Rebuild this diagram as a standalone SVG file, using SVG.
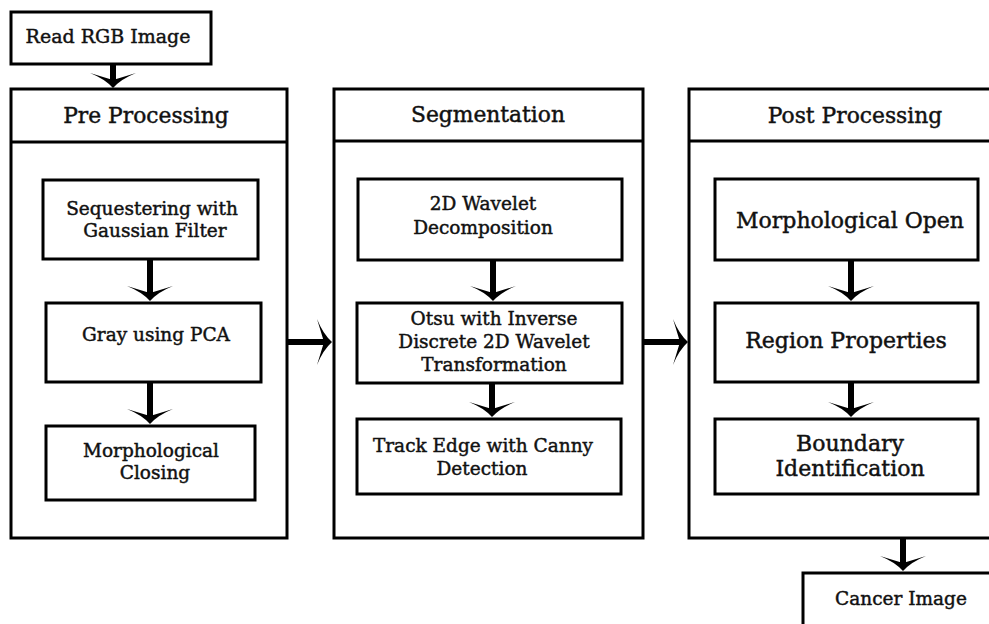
<svg xmlns="http://www.w3.org/2000/svg" xmlns:xlink="http://www.w3.org/1999/xlink" width="989" height="624" viewBox="0 0 989 624">
<style>
.box{fill:#fff;stroke:#000;stroke-width:3}
.t{font-family:"DejaVu Serif","Liberation Serif",serif;fill:#111;stroke:#111;stroke-width:0.45;text-anchor:middle}
.h{font-size:21.8px}
.s{font-size:18.5px}
.r{font-size:19px}
.p{font-size:22px}
.shaft{stroke:#000;stroke-width:6;fill:none}
</style>
<defs>
<path id="ahd" d="M0,0 Q-8,-9 -23,-15 Q-10,-11 0,-8 Q10,-11 23,-15 Q8,-9 0,0 Z" fill="#000"/>
</defs>
<rect width="989" height="624" fill="#fff"/>

<g id="read">
<rect class="box" x="11" y="12" width="200" height="52"/>
<text class="t r" x="108" y="43">Read RGB Image</text>
</g>

<g id="pre">
<rect class="box" x="11" y="89" width="276" height="449"/>
<line x1="11" y1="142" x2="287" y2="142" stroke="#000" stroke-width="3"/>
<text class="t h" x="146" y="123">Pre Processing</text>
</g>
<g id="seq">
<rect class="box" x="43" y="180" width="215" height="79"/>
<text class="t s" x="152" y="215">Sequestering with</text>
<text class="t s" x="155" y="237">Gaussian Filter</text>
</g>
<g id="gray">
<rect class="box" x="46" y="303" width="215" height="79"/>
<text class="t s" x="156" y="341">Gray using PCA</text>
</g>
<g id="closing">
<rect class="box" x="46" y="426" width="209" height="74"/>
<text class="t s" x="151" y="457">Morphological</text>
<text class="t s" x="155" y="479">Closing</text>
</g>

<g id="seg">
<rect class="box" x="334" y="89" width="309" height="449"/>
<line x1="334" y1="141" x2="643" y2="141" stroke="#000" stroke-width="3"/>
<text class="t h" x="488" y="122">Segmentation</text>
</g>
<g id="wavelet">
<rect class="box" x="358" y="179" width="264" height="81"/>
<text class="t s" x="483" y="210">2D Wavelet</text>
<text class="t s" x="483" y="234">Decomposition</text>
</g>
<g id="otsu">
<rect class="box" x="357" y="303" width="265" height="80"/>
<text class="t s" x="494" y="325">Otsu with Inverse</text>
<text class="t s" x="494" y="348">Discrete 2D Wavelet</text>
<text class="t s" x="494" y="371">Transformation</text>
</g>
<g id="track">
<rect class="box" x="357" y="419" width="264" height="75"/>
<text class="t s" x="483" y="452">Track Edge with Canny</text>
<text class="t s" x="482" y="475">Detection</text>
</g>

<g id="post">
<rect class="box" x="689" y="89" width="310" height="449"/>
<line x1="689" y1="141" x2="999" y2="141" stroke="#000" stroke-width="3"/>
<text class="t h" x="855" y="123">Post Processing</text>
</g>
<g id="open">
<rect class="box" x="715" y="179" width="263" height="81"/>
<text class="t p" x="850" y="228">Morphological Open</text>
</g>
<g id="region">
<rect class="box" x="715" y="303" width="263" height="79"/>
<text class="t p" x="846" y="348">Region Properties</text>
</g>
<g id="boundary">
<rect class="box" x="715" y="419" width="263" height="75"/>
<text class="t p" x="850" y="451">Boundary</text>
<text class="t p" x="850" y="476">Identification</text>
</g>

<g id="cancer">
<rect class="box" x="803" y="573" width="200" height="70"/>
<text class="t s" x="901" y="605">Cancer Image</text>
</g>

<g id="connectors">
<line class="shaft" x1="113" y1="64" x2="113" y2="84"/>
<use xlink:href="#ahd" transform="translate(113,88)"/>
<line class="shaft" x1="150" y1="259" x2="150" y2="297"/>
<use xlink:href="#ahd" transform="translate(150,301)"/>
<line class="shaft" x1="150" y1="382" x2="150" y2="420"/>
<use xlink:href="#ahd" transform="translate(150,424)"/>
<line class="shaft" x1="493" y1="260" x2="493" y2="297"/>
<use xlink:href="#ahd" transform="translate(493,301)"/>
<line class="shaft" x1="492" y1="383" x2="492" y2="413"/>
<use xlink:href="#ahd" transform="translate(492,417)"/>
<line class="shaft" x1="851" y1="260" x2="851" y2="297"/>
<use xlink:href="#ahd" transform="translate(851,301)"/>
<line class="shaft" x1="851" y1="382" x2="851" y2="413"/>
<use xlink:href="#ahd" transform="translate(851,417)"/>
<line class="shaft" x1="903" y1="538" x2="903" y2="567"/>
<use xlink:href="#ahd" transform="translate(903,571)"/>
<line class="shaft" x1="287" y1="342" x2="326" y2="342"/>
<use xlink:href="#ahd" transform="translate(332,342) rotate(-90)"/>
<line class="shaft" x1="643" y1="342" x2="682" y2="342"/>
<use xlink:href="#ahd" transform="translate(688,342) rotate(-90)"/>
</g>
</svg>
